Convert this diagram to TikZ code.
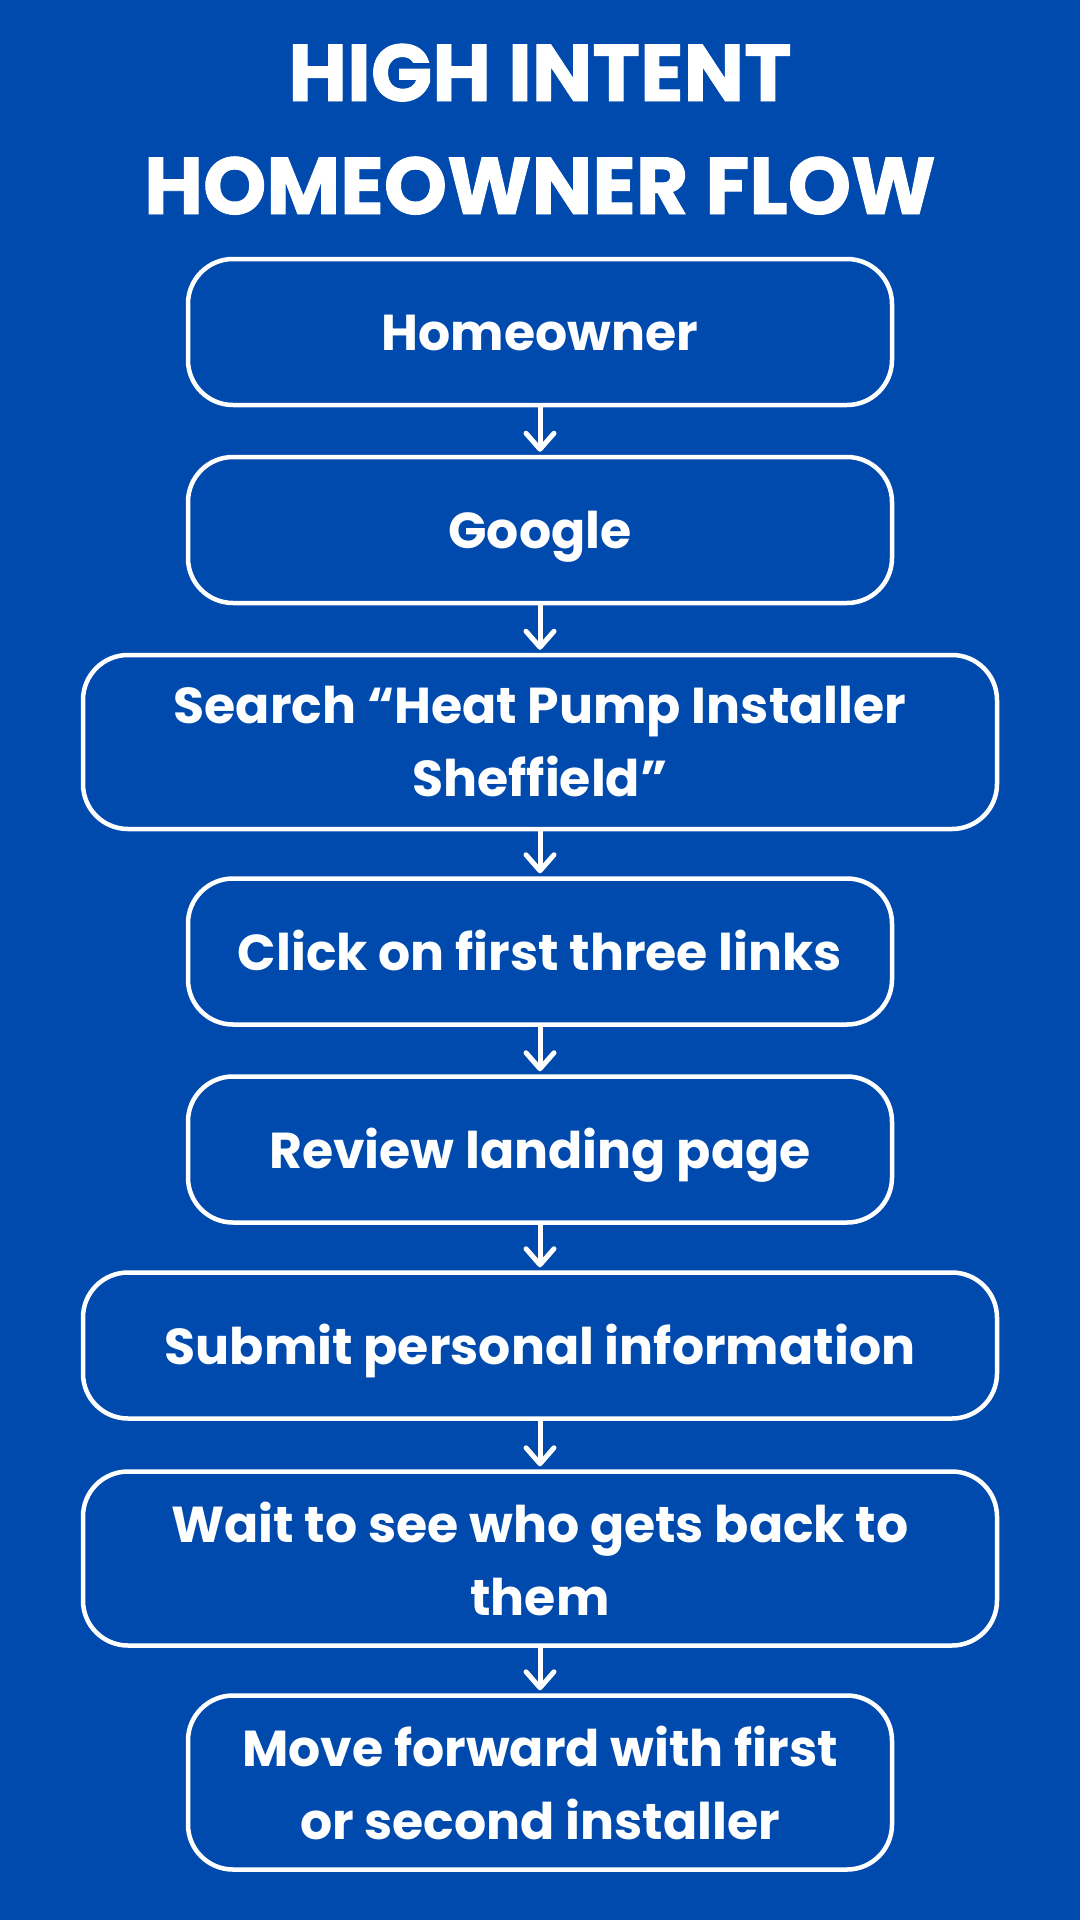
\documentclass[tikz,border=0pt]{standalone}
\usepackage{fontspec}
\setmainfont{Poppins}
\newfontfamily\heavyfont{Poppins}[BoldFeatures={FakeBold=1.2}]
\usetikzlibrary{arrows.meta}
\definecolor{bg}{HTML}{004AAD}
\begin{document}
\begin{tikzpicture}[x=1pt,y=1pt,
  titletext/.style={anchor=base, inner sep=0pt, text=white, font=\heavyfont\fontsize{80.5}{90}\selectfont\bfseries},
  stepbox/.style={draw=white, line width=4.5pt, rounded corners=45pt, minimum width=704pt, minimum height=146pt, text=white, font=\fontsize{50.5}{73}\selectfont\bfseries, align=center, inner sep=0pt},
  oneline/.style={text height=37pt, text depth=0pt},
  widebox/.style={stepbox, minimum width=914pt},
  tallbox/.style={minimum height=174pt},
  flow/.style={draw=white, line width=5pt, line cap=round, -{Straight Barb[length=16pt, width=28pt, line width=5pt, round]}, shorten >=3pt}
]
\fill[bg] (0,0) rectangle (1080,-1920);
\useasboundingbox (0,0) rectangle (1080,-1920);
\node[titletext] (t1) at (540,-101) {HIGH INTENT};
\node[titletext] (t2) at (540,-214) {HOMEOWNER FLOW};
% boxes
\node[stepbox, oneline] (b1) at (540,-332) {Homeowner};
\node[stepbox, oneline] (b2) at (540,-530) {Google};
\node[widebox, tallbox] (b3) at (540,-742) {Search “Heat Pump Installer\\Sheffield”};
\node[stepbox, oneline] (b4) at (540,-951.5) {Click on first three links};
\node[stepbox, oneline] (b5) at (540,-1149.5) {Review landing page};
\node[widebox, oneline] (b6) at (540,-1345.5) {Submit personal information};
\node[widebox, tallbox] (b7) at (540,-1558.5) {Wait to see who gets back to\\them};
\node[stepbox, tallbox] (b8) at (540,-1782.5) {Move forward with first\\or second installer};
% arrows
\draw[flow] (b1.south) -- (b2.north);
\draw[flow] (b2.south) -- (b3.north);
\draw[flow] (b3.south) -- (b4.north);
\draw[flow] (b4.south) -- (b5.north);
\draw[flow] (b5.south) -- (b6.north);
\draw[flow] (b6.south) -- (b7.north);
\draw[flow] (b7.south) -- (b8.north);
\end{tikzpicture}
\end{document}
